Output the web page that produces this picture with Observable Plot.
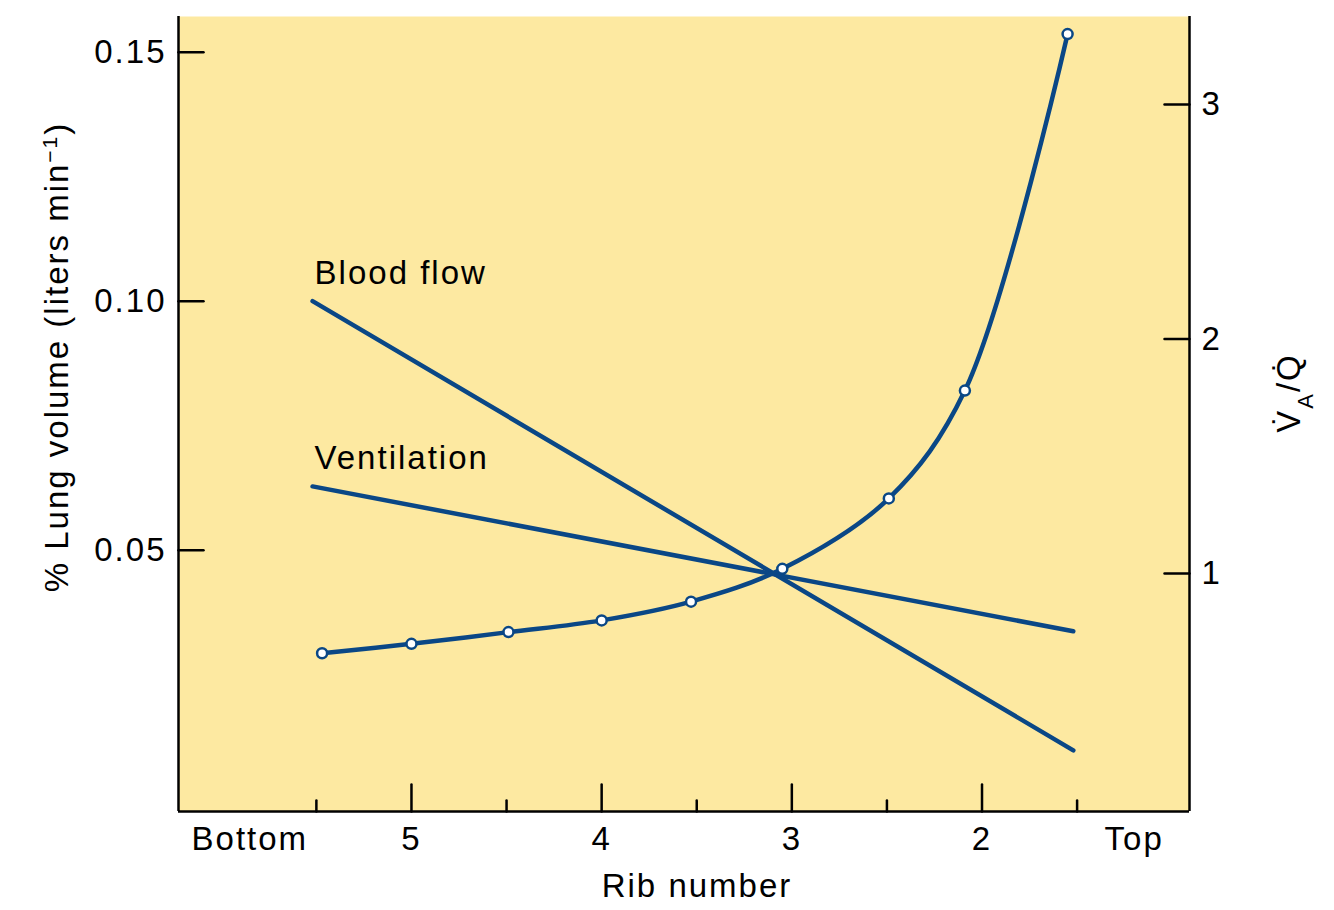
<!DOCTYPE html>
<html><head><meta charset="utf-8">
<script src="https://cdn.jsdelivr.net/npm/d3@7"></script>
<script src="https://cdn.jsdelivr.net/npm/@observablehq/plot@0.6"></script>
<style>
body{margin:0;background:#fff;overflow:hidden}
#chart{position:relative;width:1334px;height:910px}
#chart svg text{letter-spacing:2px}
</style>
</head><body><div id="chart"></div>
<script>
// ---- data ----
const seriesNames = ["Blood flow", "Ventilation"];
const lineRibs = [5.52, 1.52];
const bloodFlow = [0.1000, 0.0098];
const ventilation = [0.0628, 0.0337];
const vqRibs = [5.47, 5.0, 4.49, 4.0, 3.53, 3.05, 2.49, 2.09, 1.55];
const vqValues = [0.66, 0.70, 0.75, 0.80, 0.88, 1.02, 1.32, 1.78, 3.30];
const leftTicks = [0.05, 0.10, 0.15];
const rightTicks = [1, 2, 3];
const xMajorTicks = [5, 4, 3, 2];
const xMinorTicks = [5.5, 4.5, 3.5, 2.5, 1.5];
const xLabelPositions = [5.85, 5, 4, 3, 2, 1.2];
const xLabelTexts = ["Bottom", "5", "4", "3", "2", "Top"];
const xDomain = [6.225, 0.909];
const yDomain = [-0.00248, 0.15716];
const vqDomain = [-0.0149, 3.375];

// ---- styles ----
const blue = "#0a4786";
const paper = "#fde9a1";
const font = "'Liberation Sans', Arial, Helvetica, sans-serif";
const fs = 33;

// map V/Q values onto the left (lung volume) scale for the secondary axis
const vqToY = d3.scaleLinear().domain(vqDomain).range(yDomain);

// plain tick shape for vector marks (a straight segment, no arrowhead)
const tickShape = {draw(context, l) { context.moveTo(0, 0); context.lineTo(0, -l); }};
const tickStyle = {anchor: "start", shape: tickShape, stroke: "black", strokeWidth: 2.5};

const lineRows = [];
[bloodFlow, ventilation].forEach((vals, k) => {
  vals.forEach((v, i) => lineRows.push({series: seriesNames[k], rib: lineRibs[i], value: v}));
});
const labelRows = seriesNames.map((s, k) => ({series: s, rib: lineRibs[0], value: [bloodFlow, ventilation][k][0]}));
const vqRows = vqRibs.map((r, i) => ({rib: r, vq: vqValues[i], y: vqToY(vqValues[i])}));

const plot = Plot.plot({
  width: 1334,
  height: 910,
  marginLeft: 178,
  marginRight: 145,
  marginTop: 16,
  marginBottom: 99,
  style: {fontFamily: font, fontSize: fs + "px", background: "white", color: "black", overflow: "visible"},
  x: {type: "linear", domain: xDomain},
  y: {type: "linear", domain: yDomain},
  marks: [
    Plot.frame({fill: paper, stroke: null}),
    // left axis
    Plot.axisY(leftTicks, {anchor: "left", tickSize: 0, tickPadding: 12, tickFormat: d3.format(".2f"), label: null, fontSize: fs}),
    Plot.vector(leftTicks, {x: xDomain[0], y: d => d, length: 25, rotate: 90, ...tickStyle}),
    // right axis (V/Q)
    Plot.axisY(rightTicks.map(vqToY), {anchor: "right", tickSize: 0, tickPadding: 12, tickFormat: d => String(Math.round(vqToY.invert(d))), label: null, fontSize: fs}),
    Plot.vector(rightTicks, {x: xDomain[1], y: d => vqToY(d), length: 25, rotate: -90, ...tickStyle}),
    // x axis
    Plot.axisX(xLabelPositions, {anchor: "bottom", tickSize: 0, tickPadding: 15, tickFormat: d => xLabelTexts[xLabelPositions.indexOf(d)], label: null, fontSize: fs}),
    Plot.vector(xMajorTicks, {x: d => d, y: yDomain[0], length: 27, rotate: 0, ...tickStyle}),
    Plot.vector(xMinorTicks, {x: d => d, y: yDomain[0], length: 11, rotate: 0, ...tickStyle}),
    // frame edges (no top edge)
    Plot.ruleX([xDomain[0], xDomain[1]], {stroke: "black", strokeWidth: 2.5}),
    Plot.ruleY([yDomain[0]], {stroke: "black", strokeWidth: 2.5}),
    // series
    Plot.line(lineRows, {x: "rib", y: "value", z: "series", stroke: blue, strokeWidth: 4.5}),
    Plot.line(vqRows, {x: "rib", y: "y", curve: "catmull-rom", stroke: blue, strokeWidth: 4.5}),
    Plot.dot(vqRows, {x: "rib", y: "y", r: 5, fill: "white", stroke: blue, strokeWidth: 2.5}),
    Plot.text(labelRows, {x: "rib", y: "value", text: "series", textAnchor: "start", dx: 2, dy: -28, fontSize: fs, fill: "black"})
  ]
});

document.getElementById("chart").appendChild(plot);

// axis titles
const svg = d3.select(plot);
const lt = svg.append("text")
  .attr("transform", "translate(68,357) rotate(-90)")
  .attr("text-anchor", "middle")
  .attr("font-family", font).attr("font-size", fs).attr("fill", "black");
lt.append("tspan").text("% Lung volume (liters min");
lt.append("tspan").attr("baseline-shift", "super").attr("font-size", 21).text("−1");
lt.append("tspan").text(")");

const rt = svg.append("text")
  .attr("transform", "translate(1300,393) rotate(-90)")
  .attr("text-anchor", "middle")
  .attr("font-family", font).attr("font-size", fs).attr("fill", "black");
rt.append("tspan").text("V\u0307");
rt.append("tspan").attr("baseline-shift", "sub").attr("font-size", 22).text("A");
rt.append("tspan").text("/Q\u0307");

svg.append("text")
  .attr("x", 697).attr("y", 897)
  .attr("text-anchor", "middle")
  .attr("font-family", font).attr("font-size", fs).attr("fill", "black")
  .text("Rib number");
</script>
</body></html>
